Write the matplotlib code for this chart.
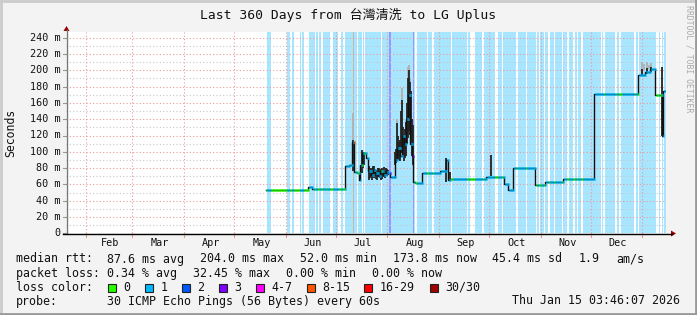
import datetime as dt
import numpy as np
import matplotlib
matplotlib.use("Agg")
import matplotlib.pyplot as plt
from matplotlib.collections import LineCollection
from matplotlib.patches import Rectangle, Polygon
from matplotlib.lines import Line2D

# ---------------- data ----------------
title = "Last 360 Days from 台灣清洗 to LG Uplus"
months = ["Feb", "Mar", "Apr", "May", "Jun", "Jul", "Aug", "Sep", "Oct", "Nov", "Dec"]
y_ticks = [0, 20, 40, 60, 80, 100, 120, 140, 160, 180, 200, 220, 240]

# loss intervals (days since start of window) and loss-class index
loss_start = [120.7, 132.5, 135.5, 140.5, 141.7, 145.9, 150.1, 152.1, 154.1, 156.3, 160.3, 165.1,
              167.5, 175.5, 178.1, 179.5, 189.7, 210.5, 217.5, 220.9, 231.9, 241.5, 245.5, 250.7,
              259.1, 262.1, 271.1, 276.7, 282.7, 284.7, 287.5, 290.3, 293.5, 298.3, 301.7, 305.3,
              307.3, 310.1, 321.7, 323.3, 330.5, 333.3, 341.9, 343.9, 355.7, 357.7, 358.9,
              172.6, 194.1, 208.1]
loss_end = [122.9, 134.3, 136.7, 141.3, 142.9, 149.5, 151.3, 153.3, 155.9, 158.5, 163.5, 166.3,
            174.5, 177.5, 178.9, 188.9, 209.5, 216.5, 219.9, 230.9, 240.5, 242.3, 249.9, 257.5,
            261.5, 270.3, 276.1, 281.9, 283.9, 286.7, 289.5, 292.7, 297.5, 300.7, 304.1, 306.5,
            309.1, 321.3, 322.5, 329.7, 331.7, 341.1, 343.1, 354.1, 356.5, 358.5, 359.9,
            173.2, 194.9, 208.9]
loss_level = [1] * 47 + [5, 3, 3]

# median rtt (ms), step changes
med_day = [119.9, 145.5, 147.7, 167.5, 169.9, 171.7, 172.9, 174.7, 175.9, 176.5, 177.7, 180.1,
           181.3, 183.1, 184.3, 185.5, 187.3, 188.5, 190.3, 192.1, 193.3, 194.5, 197.4, 198.7,
           200.5, 201.7, 202.9, 204.1, 205.3, 206.5, 207.7, 208.3, 209.5, 213.7, 224.5, 228.1,
           229.3, 230.5, 252.1, 262.9, 265.3, 268.3, 281.5, 287.5, 298.3, 316.9, 343.3, 347.5,
           350.5, 353.5, 357.7, 358.3]
med_val = [53, 57, 54, 82, 84, 112, 75.6, 74, 66, 84, 98, 92,
           76, 72, 78, 74, 70, 76, 72, 75, 74, 69.5, 90, 105,
           95, 120, 110, 140, 170, 110, 95, 63.3, 61.3, 74, 77, 90,
           65, 67, 69.5, 61, 53, 80, 59, 63.3, 66.2, 170.5, 194, 198,
           202, 170, 120, 174]
data_end = 360.0

# smoke (dark) ranges
smoke_day = [172.3, 177.9, 178.5, 179.0, 181.8, 182.4, 183.0, 183.5, 184.1, 184.6, 185.0, 185.6,
             186.2, 186.8, 187.4, 188.0, 188.6, 189.1, 189.5, 190.1, 190.7, 191.3, 191.9, 192.4,
             192.8, 193.4, 197.6, 198.2, 198.8, 199.4, 200.0, 200.6, 201.2, 201.8, 202.4, 203.0,
             203.6, 204.2, 204.8, 205.4, 206.0, 206.6, 207.2, 207.8, 208.3, 228.3, 230.8, 255.4,
             345.5, 348.5, 351.0, 357.9]
smoke_lo = [76, 74, 80, 84, 65, 68, 70, 66, 69, 72, 68, 70,
            67, 65, 70, 70, 68, 66, 67, 70, 69, 68, 72, 70,
            70, 71, 84, 86, 92, 95, 90, 89, 100, 99, 95, 89,
            92, 95, 110, 117, 125, 121, 115, 95, 84, 63, 66, 70,
            194, 196, 198, 119]
smoke_hi = [115, 102, 98, 100, 82, 80, 78, 80, 77, 82, 82, 79,
            76, 78, 80, 80, 77, 79, 80, 78, 81, 78, 80, 77,
            79, 78, 100, 104, 135, 120, 112, 115, 150, 163, 130, 121,
            128, 137, 160, 190, 200, 186, 175, 140, 133, 92, 75, 96,
            202, 203, 204, 204]
# light smoke tips
tip_day = [172.3, 198.8, 201.8, 205.4, 206.0, 206.6, 345.5, 347.0, 348.5, 350.0, 351.0]
tip_lo = [115, 135, 163, 190, 200, 186, 202, 200, 203, 202, 204]
tip_hi = [148, 140, 178, 204, 206, 190, 210, 208, 210, 206, 209]

loss_colors = ["#26ff00", "#00b8ff", "#0059ff", "#7e00ff", "#ff00ff", "#ff5500", "#ff0000", "#a10000"]
loss_labels = ["0", "1", "2", "3", "4-7", "8-15", "16-29", "30/30"]

rtt_items = ["87.6 ms avg", "204.0 ms max", "52.0 ms min", "173.8 ms now", "45.4 ms sd", "1.9"]
loss_items = ["0.34 % avg", "32.45 % max", "0.00 % min", "0.00 % now"]
slope_unit = "am/s"
probe_text = "30 ICMP Echo Pings (56 Bytes) every 60s"
stamp = "Thu Jan 15 03:46:07 2026"

# ---------------- figure ----------------
W, H = 697, 315
fig = plt.figure(figsize=(W / 100, H / 100), dpi=100, facecolor="#f3f3f3")
MONO = ["DejaVu Sans Mono", "Noto Sans CJK SC"]
CW = 6.97      # character width (px) of legend font
GAP = 16.2     # gap between legend items (px)


def fx(x):
    return x / W


def fy(y):
    return 1 - y / H


x0, x1 = 65.8, 665.8
y0, y1 = 233.3, 32.0
YMAX = (y0 - y1) / 0.815
ax = fig.add_axes([fx(x0), fy(y0), (x1 - x0) / W, (y0 - y1) / H])
ax.set_facecolor("white")
ax.set_xlim(0, 360)
ax.set_ylim(0, YMAX)
for s in ax.spines.values():
    s.set_visible(False)
ax.set_xticks([])
ax.set_yticks([])

# loss background
for a, b, lv in zip(loss_start, loss_end, loss_level):
    ax.axvspan(a, b, color=loss_colors[lv], alpha=0.34, lw=0, zorder=1)

# grid
for v in range(10, 250, 10):
    if v % 20 == 0:
        ax.axhline(v, color="#e89a9a", lw=0.8, ls=(0, (1, 2)), zorder=2)
    else:
        ax.axhline(v, color="#c8c8c8", lw=0.8, ls=(0, (1, 2)), zorder=2)

start = dt.datetime(2025, 1, 20, 3, 46, 7)


def day_of(d):
    return (d - start).total_seconds() / 86400.0


month_starts = [dt.datetime(2025, m, 1) for m in range(2, 13)] + [dt.datetime(2026, 1, 1)]
for d in month_starts:
    t = day_of(d)
    ax.axvline(t, color="#e89a9a", lw=0.8, ls=(0, (1, 2)), zorder=2)
    ax.plot([t, t], [0, -4 / 0.815], color="#e89a9a", lw=0.8, clip_on=False, zorder=2)
for i, name in enumerate(months):
    t = (day_of(month_starts[i]) + day_of(month_starts[i + 1])) / 2
    ax.text(t + 1, -9.5 / 0.815, name, ha="center", va="center", family=MONO, fontsize=7.3, color="#111")

# smoke
ax.vlines(tip_day, tip_lo, tip_hi, color="#b0b0b0", lw=1.3, zorder=3)
ax.vlines(smoke_day, smoke_lo, smoke_hi, color="#222222", lw=1.3, zorder=4)

# median line: black step + loss coloured segments
md = np.array(med_day + [data_end])
mv = np.array(med_val + [med_val[-1]])
ax.step(md, mv, where="post", color="#111111", lw=1.0, zorder=5)

dt_step = 0.6
tt = np.arange(med_day[0], data_end, dt_step)
idx = np.searchsorted(np.array(med_day), tt, side="right") - 1
vals = np.array(med_val)[idx]
segs, cols = [], []
for t, v in zip(tt, vals):
    lv = 0
    for a, b, l in zip(loss_start, loss_end, loss_level):
        if a <= t + dt_step / 2 < b:
            lv = max(lv, l)
    segs.append([(t, v), (t + dt_step, v)])
    cols.append(loss_colors[lv])
ax.add_collection(LineCollection(segs, colors=cols, linewidths=2.0, zorder=6))

# y labels
for v in y_ticks:
    lab = "0" if v == 0 else f"{v} m"
    fig.text(fx(60.5), fy(y0 - v * 0.815), lab, ha="right", va="center", family=MONO, fontsize=7.3, color="#111")
    fig.add_artist(Line2D([fx(63), fx(66)], [fy(y0 - v * 0.815)] * 2, color="#999", lw=0.8))

fig.text(fx(11), fy(132.5), "Seconds", rotation=90, ha="center", va="center", family=MONO, fontsize=8.3, color="#111")

# axes lines and arrows
fig.add_artist(Line2D([fx(66.5), fx(66.5)], [fy(234), fy(30)], color="#777777", lw=1.0))
fig.add_artist(Polygon([[fx(63.5), fy(31)], [fx(69.5), fy(31)], [fx(66.5), fy(26)]], closed=True, color="#990000", lw=0))
fig.add_artist(Line2D([fx(63), fx(672)], [fy(233.5), fy(233.5)], color="#000000", lw=1.0))
fig.add_artist(Polygon([[fx(671), fy(230.5)], [fx(671), fy(236.5)], [fx(676), fy(233.5)]], closed=True, color="#990000", lw=0))

# title
fig.text(fx(348), fy(15), title, ha="center", va="center", family=MONO, fontsize=9.4, color="#111")
fig.text(fx(689), fy(59), "RRDTOOL / TOBI OETIKER", rotation=-90, ha="center", va="center",
         family=MONO, fontsize=5.9, color="#aaaaaa")

# legend
fs = 8.33


def txt(x, y, s):
    fig.text(fx(x), fy(y), s, ha="left", va="center", family=MONO, fontsize=fs, color="#111")


def items_row(x, y, items):
    for it in items:
        txt(x, y, it)
        x += len(it) * CW + GAP
    return x


txt(16, 259, "median rtt:")
xe = items_row(107, 259, rtt_items)
txt(xe - GAP + 2.5 * CW, 259, slope_unit)
txt(16, 273.3, "packet loss:")
items_row(107, 273.3, loss_items)
txt(16, 287.3, "loss color:")
box_x = [108, 145.3, 182, 219, 256, 306.7, 364.4, 430]
for bx, c, lab in zip(box_x, loss_colors, loss_labels):
    fig.add_artist(Rectangle((fx(bx), fy(291.5)), 8 / W, 8 / H, facecolor=c, edgecolor="#222", lw=0.8))
    txt(bx + 15.5, 287.3, lab)
txt(16, 301, "probe:")
txt(107, 301, probe_text)
fig.text(fx(680), fy(301), stamp, ha="right", va="center", family=MONO, fontsize=fs, color="#111")

# frame shading
fig.add_artist(Line2D([fx(0.5), fx(0.5)], [0, 1], color="#cbcbcb", lw=2))
fig.add_artist(Line2D([0, 1], [fy(0.5), fy(0.5)], color="#cbcbcb", lw=2))
fig.add_artist(Line2D([fx(W - 1), fx(W - 1)], [0, 1], color="#999999", lw=2))
fig.add_artist(Line2D([0, 1], [fy(H - 1), fy(H - 1)], color="#999999", lw=2))

fig.savefig("out.png", dpi=100, facecolor=fig.get_facecolor())
